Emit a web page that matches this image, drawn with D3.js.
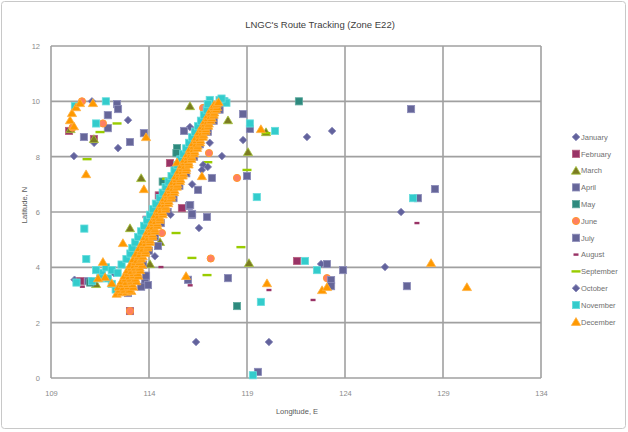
<!DOCTYPE html>
<html>
<head>
<meta charset="utf-8">
<script src="https://cdn.jsdelivr.net/npm/d3@7"></script>
<style>
  html, body { margin: 0; padding: 0; background: #fff; }
  svg { display: block; font-family: "Liberation Sans", Arial, sans-serif; }
</style>
</head>
<body>
<svg id="chart" width="628" height="432"></svg>
<script>
// Monthly vessel positions, [longitude E, latitude N]
const january = [[111.09,10.0],[112.93,9.32],[112.42,8.31],[110.17,8.02],[111.2,8.5],[116.55,5.42],[118.8,8.6],[117.72,8.02],[122.06,8.71],[123.34,8.93],[122.78,4.12],[126.04,4.01],[126.86,6.0],[116.4,1.3],[120.12,1.3],[110.2,3.55],[113.75,3.4],[116.09,9.07]];
const february = [[109.92,8.93],[111.19,8.64],[115.68,6.14],[115.07,7.77],[121.55,4.23],[113.03,2.42],[110.5,3.5],[112.6,3.2],[114.5,6.6]];
const march = [[116.09,9.83],[118.03,9.32],[119.97,8.89],[119.05,8.17],[113.6,7.23],[111.19,8.64],[113.03,5.42],[114.56,4.92],[114.05,4.12],[119.1,4.16],[111.3,3.4],[110.0,9.0]];
const april = [[112.37,9.9],[112.42,9.72],[111.9,9.5],[111.9,9.03],[110.68,8.71],[113.03,8.53],[113.74,8.85],[115.79,8.93],[116.35,8.93],[118.8,9.54],[119.15,9.0],[116.04,6.22],[116.19,5.89],[116.96,5.82],[114.46,4.77],[113.8,3.54],[113.95,3.36],[112.93,3.07],[123.08,4.12],[123.9,3.9],[127.37,9.72],[128.59,6.83],[115.99,3.55],[118.03,3.61],[119.56,0.22],[110.9,3.5]];
const may = [[121.65,10.0],[115.43,8.31],[115.4,8.13],[118.49,2.6],[111.0,3.45],[114.7,7.1],[113.2,4.6]];
const june = [[110.58,10.0],[111.65,9.2],[116.76,9.76],[117.06,8.13],[118.49,7.23],[114.66,5.24],[113.95,4.63],[117.15,4.32],[123.08,3.61],[113.03,2.42],[110.1,9.05],[114.9,6.9],[117.55,9.9]];
const july = [[116.5,6.8],[116.1,6.25],[116.2,5.93],[117.21,7.23],[119.0,7.3],[123.29,3.54],[123.29,3.32],[127.16,3.32],[127.72,6.5],[113.6,3.3],[113.85,3.7],[113.7,4.1],[114.0,4.6],[114.3,5.1],[114.6,5.6],[114.95,6.0],[115.25,6.5],[115.55,6.95],[115.9,7.4],[116.3,8.0],[116.6,8.45],[117.0,8.9],[117.3,9.3],[117.6,9.7],[117.8,10.0]];
const august = [[127.67,5.6],[122.37,2.82],[120.12,3.18],[113.8,5.82],[114.61,4.01],[116.1,3.35],[110.6,3.3],[113.1,3.9]];
const september = [[112.37,9.2],[111.5,8.89],[110.84,7.91],[114.46,6.32],[115.38,5.24],[116.19,4.34],[116.96,3.72],[118.69,4.73],[117.0,7.8],[119.0,7.52],[119.97,8.85],[111.6,3.6],[113.0,3.9],[115.9,8.0],[114.9,7.2]];
const october = [[116.76,7.7],[117.0,7.63],[116.7,7.52],[114.3,4.4],[113.3,3.6],[115.1,5.9],[116.2,7.0],[117.1,8.5],[112.2,3.8]];
const november = [[110.22,9.83],[111.8,10.0],[111.3,9.2],[119.15,9.2],[120.43,8.93],[119.5,6.54],[121.96,4.23],[122.57,3.9],[127.47,6.5],[119.71,2.75],[119.3,0.1],[110.7,5.4],[110.8,4.3],[110.3,3.45],[111.1,3.5],
  [117.1,10.05],[117.6,10.05],[117.85,10.0],[117.95,9.95],[117.7,10.1],
  [112.3,3.2],[112.1,3.4],[111.9,3.6],[111.6,3.8],[111.3,3.9],[111.5,3.6],[111.8,4.0],[112.1,3.9],[112.4,3.8],[112.6,4.1],[112.85,4.3],[113.05,4.5],[113.15,4.7],[113.3,4.9],[113.45,5.1],[113.6,5.3],[113.75,5.5],[113.9,5.7],[114.05,5.9],[114.2,6.1],[114.35,6.3],[114.55,6.5],[114.7,6.7],[114.85,6.9],[115.0,7.1],[115.15,7.3],[115.3,7.5],[115.45,7.7],[115.6,7.9],[115.75,8.1],[115.9,8.3],[116.05,8.5],[116.2,8.7],[116.35,8.9],[116.5,9.1],[116.65,9.3],[116.8,9.5],[116.95,9.7],[117.0,9.9]];
const december = [[111.14,9.94],[109.97,9.32],[110.07,9.58],[110.28,9.79],[110.48,9.94],[110.17,9.1],[113.85,8.71],[110.79,7.37],[113.74,6.83],[112.67,4.88],[115.43,7.8],[119.71,9.0],[116.7,7.3],[115.89,3.69],[120.02,3.43],[122.83,3.18],[123.08,3.29],[128.39,4.16],[130.22,3.29],[111.65,4.2],[111.76,3.65],[112.1,3.43],[111.4,3.61],
  [112.35,3.05],[112.6,3.1],[112.85,3.12],[113.1,3.15],
  [112.5,3.2],[112.75,3.2],[113.0,3.2],
  [112.45,3.3],[112.7,3.28],[112.95,3.32],[113.2,3.3],
  [112.65,3.4],[112.9,3.4],[113.15,3.4],
  [112.6,3.5],[112.85,3.48],[113.1,3.52],[113.35,3.5],
  [112.8,3.6],[113.05,3.6],[113.3,3.6],
  [112.75,3.7],[113.0,3.68],[113.22,3.72],[113.45,3.7],
  [112.95,3.8],[113.2,3.8],[113.42,3.8],
  [112.9,3.9],[113.12,3.88],[113.35,3.92],[113.55,3.9],
  [113.1,4.0],[113.3,4.0],[113.52,4.0],
  [113.05,4.1],[113.25,4.08],[113.45,4.12],[113.65,4.1],
  [113.3,4.2],[113.52,4.2],
  [113.2,4.3],[113.4,4.28],[113.6,4.32],
  [113.45,4.4],[113.68,4.4],
  [113.35,4.5],[113.55,4.48],[113.8,4.52],
  [113.6,4.6],[113.82,4.6],
  [113.5,4.7],[113.7,4.68],[113.92,4.72],
  [113.72,4.8],[113.95,4.8],
  [113.65,4.9],[113.85,4.88],[114.05,4.92],
  [113.85,5.0],[114.05,5.0],
  [113.78,5.1],[113.98,5.08],[114.18,5.12],
  [113.98,5.2],[114.18,5.2],
  [113.92,5.3],[114.1,5.28],[114.3,5.32],
  [114.1,5.4],[114.3,5.4],
  [114.05,5.5],[114.22,5.48],[114.42,5.52],
  [114.22,5.6],[114.42,5.6],
  [114.18,5.7],[114.36,5.68],[114.55,5.72],
  [114.35,5.8],[114.55,5.8],
  [114.32,5.9],[114.5,5.88],[114.7,5.92],
  [114.5,6.0],[114.7,6.0],
  [114.46,6.1],[114.64,6.08],[114.84,6.12],
  [114.65,6.2],[114.85,6.2],
  [114.62,6.3],[114.8,6.28],[114.98,6.32],
  [114.8,6.4],[115.0,6.4],
  [114.78,6.5],[114.95,6.48],[115.12,6.52],
  [114.95,6.6],[115.15,6.6],
  [114.92,6.7],[115.1,6.68],[115.28,6.72],
  [115.1,6.8],[115.3,6.8],
  [115.06,6.9],[115.24,6.88],[115.42,6.92],
  [115.25,7.0],[115.45,7.0],
  [115.22,7.1],[115.4,7.08],[115.58,7.12],
  [115.4,7.2],[115.6,7.2],
  [115.36,7.3],[115.54,7.28],[115.72,7.32],
  [115.55,7.4],[115.75,7.4],
  [115.52,7.5],[115.7,7.48],[115.88,7.52],
  [115.7,7.6],[115.9,7.6],
  [115.66,7.7],[115.84,7.68],[116.02,7.72],
  [115.82,7.8],[116.02,7.8],
  [115.8,7.9],[115.98,7.88],[116.16,7.92],
  [115.98,8.0],[116.18,8.0],
  [115.96,8.1],[116.13,8.08],[116.3,8.12],
  [116.12,8.2],[116.32,8.2],
  [116.1,8.3],[116.28,8.28],[116.45,8.32],
  [116.28,8.4],[116.48,8.4],
  [116.25,8.5],[116.42,8.48],[116.6,8.52],
  [116.42,8.6],[116.62,8.6],
  [116.4,8.7],[116.58,8.68],[116.75,8.72],
  [116.58,8.8],[116.78,8.8],
  [116.55,8.9],[116.72,8.88],[116.88,8.92],
  [116.72,9.0],[116.9,9.0],
  [116.7,9.1],[116.86,9.08],[117.02,9.12],
  [116.86,9.2],[117.05,9.2],
  [116.85,9.3],[117.0,9.28],[117.15,9.32],
  [117.0,9.4],[117.2,9.4],
  [117.0,9.5],[117.15,9.48],[117.3,9.52],
  [117.15,9.6],[117.33,9.6],
  [117.15,9.7],[117.3,9.68],[117.42,9.72],
  [117.3,9.8],[117.47,9.8],
  [117.32,9.88],[117.46,9.92],[117.55,9.98]];

const monthNames = ["January","February","March","April","May","June","July","August","September","October","November","December"];
const xTicks = [109,114,119,124,129,134];
const yTicks = [0,2,4,6,8,10,12];

// Marker style per month
const seriesStyle = [
  { data: january,   shape: "diamond",  fill: "#62629c", stroke: "#8585b8" },
  { data: february,  shape: "square",   fill: "#993366", stroke: "#b8607f" },
  { data: march,     shape: "triangle", fill: "#7b7b22", stroke: "#a4c43c" },
  { data: april,     shape: "square",   fill: "#666699", stroke: "#8d8dba" },
  { data: may,       shape: "square",   fill: "#2e8a7e", stroke: "#5fa99e" },
  { data: june,      shape: "circle",   fill: "#ff7f62", stroke: "#ff9a2e" },
  { data: july,      shape: "square",   fill: "#666699", stroke: "#8d8dba" },
  { data: august,    shape: "dashS",    fill: "#993366", stroke: "none" },
  { data: september, shape: "dashL",    fill: "#99cc00", stroke: "none" },
  { data: october,   shape: "diamond",  fill: "#62629c", stroke: "#8585b8" },
  { data: november,  shape: "square",   fill: "#33cccc", stroke: "#66dddd" },
  { data: december,  shape: "triangle", fill: "#ff9900", stroke: "#ffb040" }
];

const svg = d3.select("#chart");
const margin = { left: 51, right: 87, top: 46, bottom: 54 };
const W = 628, H = 432;

// outer frame
svg.append("rect").attr("x", 1.5).attr("y", 1.5).attr("width", W - 4).attr("height", H - 5)
  .attr("rx", 3).attr("fill", "#fff").attr("stroke", "#c8c8c8").attr("stroke-width", 1);

const x = d3.scaleLinear().domain([109, 134]).range([margin.left, W - margin.right]);
const y = d3.scaleLinear().domain([0, 12]).range([H - margin.bottom, margin.top]);

// gridlines
const grid = svg.append("g");
grid.selectAll("line.v").data(xTicks).join("line")
  .attr("x1", d => x(d)).attr("x2", d => x(d))
  .attr("y1", y(0)).attr("y2", y(12))
  .attr("stroke", "#a0a0a0").attr("stroke-width", 1.6);
grid.selectAll("line.h").data(yTicks).join("line")
  .attr("x1", x(109)).attr("x2", x(134))
  .attr("y1", d => y(d)).attr("y2", d => y(d))
  .attr("stroke", "#a0a0a0").attr("stroke-width", 1.6);

// axes (labels only)
const xAxis = svg.append("g").attr("transform", `translate(0,${y(0) + 10})`)
  .call(d3.axisBottom(x).tickValues(xTicks).tickSize(0).tickFormat(d3.format("d")));
const yAxis = svg.append("g").attr("transform", `translate(${x(109) - 8},0)`)
  .call(d3.axisLeft(y).tickValues(yTicks).tickSize(0).tickFormat(d3.format("d")));
[xAxis, yAxis].forEach(a => {
  a.select(".domain").remove();
  a.selectAll("text").attr("fill", "#8a8a8a").style("font-size", "7.5px")
    .style("font-family", "'Liberation Sans', Arial, sans-serif");
});

// marker drawing
const triPath = "M0,-4.2L4.6,3.6L-4.6,3.6Z";
function drawMarker(sel, shape, fill, stroke) {
  sel.each(function() {
    const g = d3.select(this);
    if (shape === "square") {
      g.append("rect").attr("x", -3.6).attr("y", -3.6).attr("width", 7.2).attr("height", 7.2)
        .attr("fill", fill).attr("stroke", stroke).attr("stroke-width", 0.8);
    } else if (shape === "diamond") {
      g.append("path").attr("d", "M0,-3.8L3.8,0L0,3.8L-3.8,0Z")
        .attr("fill", fill).attr("stroke", stroke).attr("stroke-width", 0.8);
    } else if (shape === "triangle") {
      g.append("path").attr("d", triPath)
        .attr("fill", fill).attr("stroke", stroke).attr("stroke-width", 0.8);
    } else if (shape === "circle") {
      g.append("circle").attr("r", 3.6)
        .attr("fill", fill).attr("stroke", stroke).attr("stroke-width", 1);
    } else if (shape === "dashS") {
      g.append("rect").attr("x", -2.5).attr("y", -1.2).attr("width", 5).attr("height", 2.4).attr("fill", fill);
    } else if (shape === "dashL") {
      g.append("rect").attr("x", -4.5).attr("y", -1.2).attr("width", 9).attr("height", 2.4).attr("fill", fill);
    }
  });
}

const plot = svg.append("g");
seriesStyle.forEach((s, i) => {
  const g = plot.append("g").attr("class", "series-" + monthNames[i]);
  g.selectAll("g").data(s.data).join("g")
    .attr("transform", d => `translate(${x(d[0])},${y(d[1])})`)
    .call(sel => drawMarker(sel, s.shape, s.fill, s.stroke));
});

// title and axis titles
svg.append("text").attr("x", 320).attr("y", 28).attr("text-anchor", "middle")
  .attr("fill", "#404040").style("font-size", "9.5px")
  .text("LNGC's Route Tracking (Zone E22)");
svg.append("text").attr("x", 297).attr("y", 414).attr("text-anchor", "middle")
  .attr("fill", "#595959").style("font-size", "7.5px").text("Longitude, E");
svg.append("text").attr("transform", "translate(27,205) rotate(-90)").attr("text-anchor", "middle")
  .attr("fill", "#595959").style("font-size", "7.5px").text("Latitude, N");

// legend
const legend = svg.append("g");
seriesStyle.forEach((s, i) => {
  const ly = 137 + i * 16.8;
  const g = legend.append("g").attr("transform", `translate(576,${ly})`);
  drawMarker(g, s.shape, s.fill, s.stroke);
  legend.append("text").attr("x", 581).attr("y", ly + 2.7)
    .attr("fill", "#707070").style("font-size", "7.5px").text(monthNames[i]);
});
</script>
</body>
</html>
